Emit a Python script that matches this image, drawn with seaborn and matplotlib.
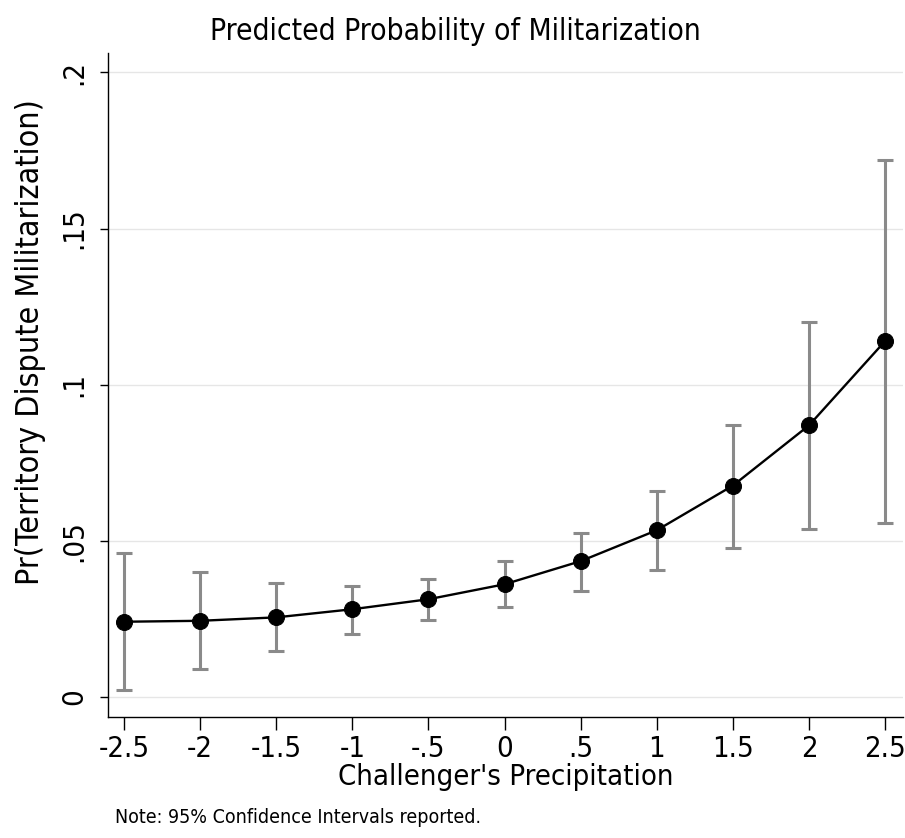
import numpy as np
import pandas as pd
import seaborn as sns
import matplotlib.pyplot as plt

# values
precip = [-2.5, -2.0, -1.5, -1.0, -0.5, 0.0, 0.5, 1.0, 1.5, 2.0, 2.5]
prob = [0.0241, 0.0244, 0.0255, 0.0281, 0.0313, 0.0361, 0.0435, 0.0534, 0.0677, 0.0870, 0.1140]
ci_low = [0.0022, 0.0089, 0.0147, 0.0203, 0.0247, 0.0289, 0.0340, 0.0408, 0.0477, 0.0538, 0.0557]
ci_high = [0.0461, 0.0400, 0.0364, 0.0355, 0.0379, 0.0437, 0.0526, 0.0661, 0.0871, 0.1202, 0.1719]

x_ticks = [-2.5, -2, -1.5, -1, -0.5, 0, 0.5, 1, 1.5, 2, 2.5]
x_labels = ['-2.5', '-2', '-1.5', '-1', '-.5', '0', '.5', '1', '1.5', '2', '2.5']
y_ticks = [0, 0.05, 0.1, 0.15, 0.2]
y_labels = ['0', '.05', '.1', '.15', '.2']

df = pd.DataFrame({'precip': precip, 'prob': prob, 'lo': ci_low, 'hi': ci_high})

sns.set_style('white')
plt.rcParams['font.family'] = ['DejaVu Sans']
plt.rcParams['font.stretch'] = 'condensed'
plt.rcParams['text.color'] = 'black'
plt.rcParams['axes.labelcolor'] = 'black'
plt.rcParams['xtick.color'] = 'black'
plt.rcParams['ytick.color'] = 'black'

fig = plt.figure(figsize=(9.05, 8.38), dpi=100)
ax = fig.add_axes([0.1193, 0.1444, 0.879, 0.7927])

# confidence intervals
ax.errorbar(df['precip'], df['prob'],
            yerr=[df['prob'] - df['lo'], df['hi'] - df['prob']],
            fmt='none', ecolor='#8a8a8a', elinewidth=2.2, capsize=6, capthick=2.2, zorder=2)

# predicted probability line
sns.lineplot(data=df, x='precip', y='prob', color='black', linewidth=1.7,
             marker='o', markersize=11.5, markeredgecolor='black', ax=ax, zorder=3)

ax.set_xlim(-2.605, 2.62)
ax.set_ylim(-0.0064, 0.2063)

ax.set_xticks(x_ticks)
ax.set_xticklabels(x_labels, fontsize=21)
ax.set_yticks(y_ticks)
ax.set_yticklabels(y_labels, fontsize=21, rotation=90, va='center')

ax.yaxis.grid(True, color='#e6e6e6', linewidth=1)
ax.xaxis.grid(False)

for s in ['top', 'right']:
    ax.spines[s].set_visible(False)
for s in ['left', 'bottom']:
    ax.spines[s].set_color('black')
    ax.spines[s].set_linewidth(1.0)

ax.tick_params(axis='x', direction='out', length=9, width=1, color='black', pad=4, bottom=True)
ax.tick_params(axis='y', direction='out', length=6, width=1, color='black', pad=8, left=True)

ax.set_xlabel("Challenger's Precipitation", fontsize=21, labelpad=0)
ax.set_ylabel('Pr(Territory Dispute Militarization)', fontsize=23)
ax.yaxis.set_label_coords(-0.078, 0.564)

fig.suptitle('Predicted Probability of Militarization', fontsize=21.5, x=0.503, y=0.98)
fig.text(0.127, 0.018, 'Note: 95% Confidence Intervals reported.', fontsize=14)

plt.savefig('out.png', dpi=100)
